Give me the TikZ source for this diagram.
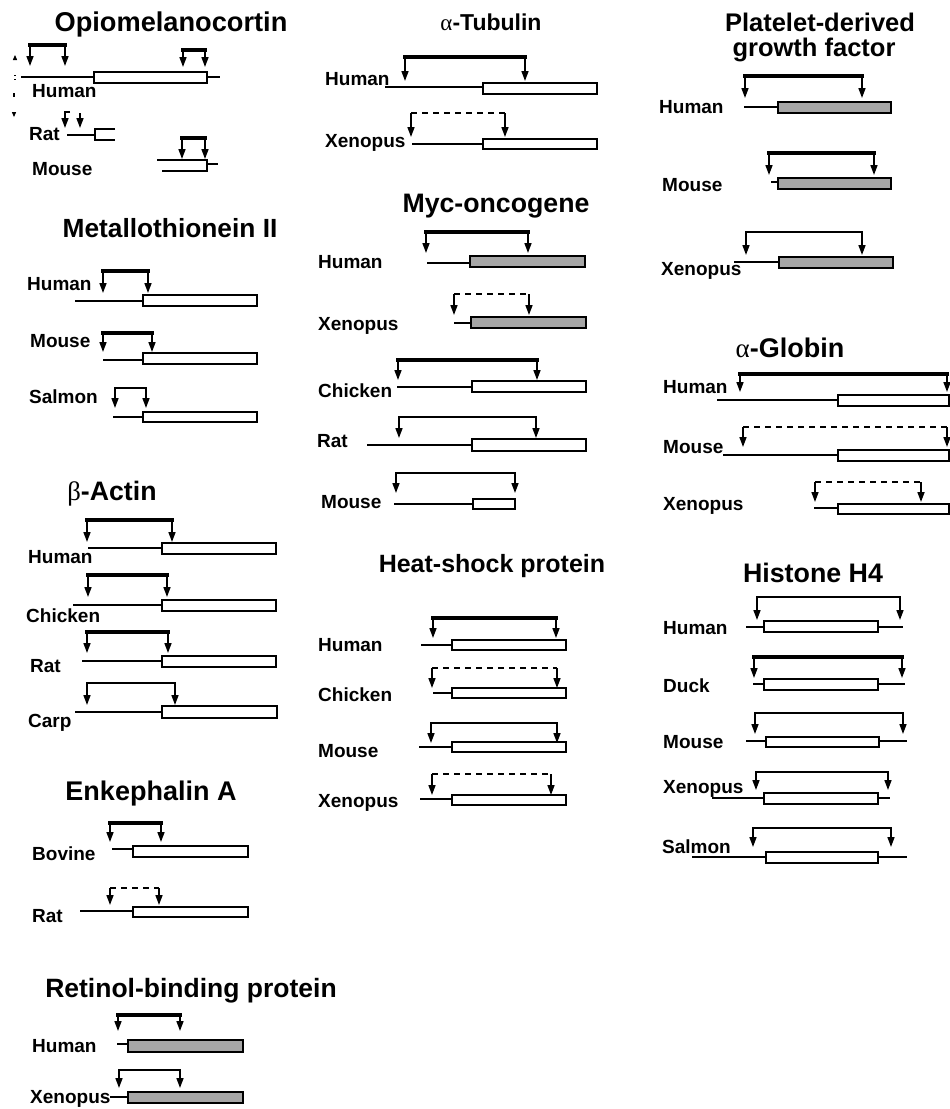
\documentclass[tikz,border=0pt]{standalone}
\usepackage{fontspec}
\setmainfont{Liberation Sans}
\newfontfamily\grk{Liberation Serif}
\usetikzlibrary{arrows.meta}

\tikzset{
  x=1pt, y=-1pt,
  lab/.style={font=\fontsize{19}{22}\selectfont\bfseries, anchor=base west, inner sep=0pt},
  ttl/.style={font=\fontsize{#1}{#1}\selectfont\bfseries, anchor=base, inner sep=0pt},
  flank/.style={line width=1.8pt},
  exon/.style={draw, line width=2.2pt, fill=white, line join=miter},
  exonshade/.style={draw, line width=2.2pt, fill=black!35, line join=miter},
  shaft/.style={line width=1.6pt, -{Triangle[length=10pt,width=7pt]}},
  topthick/.style={line width=3.4pt, line cap=rect},
  topthin/.style={line width=1.8pt, line cap=rect},
  topdash/.style={line width=2pt, dash pattern=on 6pt off 5pt},
}

% flanking sequence: x1, x2, y
\newcommand\flk[3]{\draw[flank] (#1,#3) -- (#2,#3);}
% exon box: [style] x1, x2, ytop, ybottom
\newcommand\exn[5][exon]{\draw[#1] (#2,#4) rectangle (#3,#5);}
% bracket with two down arrows: top style, xleft, xright, ytop, ytip
\newcommand\brk[5]{%
  \draw[shaft] (#2,#4) -- (#2,#5);
  \draw[shaft] (#3,#4) -- (#3,#5);
  \draw[#1] (#2,#4) -- (#3,#4);}

\begin{document}
\begin{tikzpicture}
\path[use as bounding box] (0,0) rectangle (950,1109);
\clip (0,0) rectangle (950,1109);
\fill[white] (0,0) rectangle (950,1109);

% ---------------- Opiomelanocortin ----------------
\node[ttl=27.2] (t-pomc) at (171,31) {Opiomelanocortin};
% small marks in the left margin
\fill (12.8,60) -- (17.2,60) -- (15,55) -- cycle;
\fill (14.2,74.5) rectangle (16,76);
\fill (14.2,78.5) rectangle (16,80);
\fill (12.5,93) rectangle (14.5,96.5);
\fill (11.8,112) -- (16.2,112) -- (14,117) -- cycle;

\node[lab] (pomc-hu) at (32,97) {Human};
\flk{21}{94}{77} \flk{207}{220}{77}
\exn{94}{207}{72}{83}
\brk{topthick}{30}{65}{45}{66}
\brk{topthick}{183}{205}{50}{67}

\node[lab] (pomc-rat) at (29,140) {Rat};
\flk{67}{95}{135}
\draw[exon, fill=none] (115,129) -- (95,129) -- (95,140) -- (115,140);
\draw[shaft] (70,112) -- (65,112) -- (65,128);
\draw[shaft] (80,113) -- (80,128);

\node[lab] (pomc-mo) at (32,175) {Mouse};
\draw[exon, fill=none] (157,160) -- (207,160) -- (207,171) -- (162,171);
\flk{207}{218}{164}
\brk{topthick}{182}{205}{138}{159}

% ---------------- Metallothionein II ----------------
\node[ttl=26.3] (t-mt) at (170,237) {Metallothionein II};
\node[lab] (mt-hu) at (27,290) {Human};
\flk{75}{143}{301} \exn{143}{257}{295}{306}
\brk{topthick}{103}{148}{271}{293}
\node[lab] (mt-mo) at (30,347) {Mouse};
\flk{103}{143}{360} \exn{143}{257}{353}{364}
\brk{topthick}{103}{152}{333}{352}
\node[lab] (mt-sa) at (29,403) {Salmon};
\flk{113}{143}{417} \exn{143}{257}{412}{422}
\brk{topthin}{115}{146}{388}{408}

% ---------------- beta-Actin ----------------
\node[ttl=26.7] (t-act) at (112,500) {{\grk\mdseries β}-Actin};
\node[lab] (act-hu) at (28,563) {Human};
\flk{88}{162}{548} \exn{162}{276}{543}{554}
\brk{topthick}{87}{172}{520}{542}
\node[lab] (act-ch) at (26,622) {Chicken};
\flk{73}{162}{605} \exn{162}{276}{600}{611}
\brk{topthick}{88}{167}{575}{597}
\node[lab] (act-rat) at (30,672) {Rat};
\flk{82}{162}{661} \exn{162}{276}{656}{667}
\brk{topthick}{87}{168}{632}{653}
\node[lab] (act-ca) at (28,727) {Carp};
\flk{75}{162}{712} \exn{162}{277}{706}{718}
\brk{topthin}{87}{175}{683}{705}

% ---------------- Enkephalin A ----------------
\node[ttl=27] (t-enk) at (151,800) {Enkephalin A};
\node[lab] (enk-bo) at (32,860) {Bovine};
\flk{112}{133}{849} \exn{133}{248}{846}{857}
\brk{topthick}{110}{161}{823}{842}
\node[lab] (enk-rat) at (32,922) {Rat};
\flk{80}{133}{911} \exn{133}{248}{907}{917}
\brk{topdash}{110}{159}{888}{905}

% ---------------- Retinol-binding protein ----------------
\node[ttl=26.5] (t-rbp) at (191,997) {Retinol-binding protein};
\node[lab] (rbp-hu) at (32,1052) {Human};
\flk{117}{128}{1044} \exn[exonshade]{128}{243}{1040}{1052}
\brk{topthick}{118}{180}{1015}{1031}
\node[lab] (rbp-xe) at (30,1103) {Xenopus};
\flk{110}{128}{1097} \exn[exonshade]{128}{243}{1092}{1103}
\brk{topthin}{119}{180}{1070}{1088}

% ---------------- alpha-Tubulin ----------------
\node[ttl=23] (t-tub) at (491,30) {{\grk\mdseries α}-Tubulin};
\node[lab] (tub-hu) at (325,85) {Human};
\flk{385}{483}{87} \exn{483}{597}{83}{94}
\brk{topthick}{405}{525}{57}{81}
\node[lab] (tub-xe) at (325,147) {Xenopus};
\flk{412}{483}{144} \exn{483}{597}{139}{149}
\brk{topdash}{411}{505}{113}{137}

% ---------------- Myc-oncogene ----------------
\node[ttl=26.7] (t-myc) at (496,212) {Myc-oncogene};
\node[lab] (myc-hu) at (318,268) {Human};
\flk{427}{470}{263} \exn[exonshade]{470}{585}{256}{267}
\brk{topthick}{426}{528}{232}{253}
\node[lab] (myc-xe) at (318,330) {Xenopus};
\flk{454}{471}{323} \exn[exonshade]{471}{586}{317}{328}
\brk{topdash}{454}{529}{294}{315}
\node[lab] (myc-ch) at (318,397) {Chicken};
\flk{397}{472}{387} \exn{472}{586}{381}{392}
\brk{topthick}{398}{537}{360}{380}
\node[lab] (myc-rat) at (317,447) {Rat};
\flk{367}{472}{445} \exn{472}{586}{439}{451}
\brk{topthin}{399}{536}{417}{438}
\node[lab] (myc-mo) at (321,508) {Mouse};
\flk{394}{473}{504} \exn{473}{515}{499}{509}
\brk{topthin}{396}{515}{473}{493}

% ---------------- Heat-shock protein ----------------
\node[ttl=25] (t-hsp) at (492,572) {Heat-shock protein};
\node[lab] (hsp-hu) at (318,651) {Human};
\flk{421}{452}{645} \exn{452}{566}{640}{650}
\brk{topthick}{433}{556}{618}{638}
\node[lab] (hsp-ch) at (318,701) {Chicken};
\flk{433}{452}{693} \exn{452}{566}{688}{698}
\brk{topdash}{432}{557}{668}{688}
\node[lab] (hsp-mo) at (318,757) {Mouse};
\flk{419}{452}{747} \exn{452}{566}{742}{752}
\brk{topthin}{431}{557}{723}{743}
\node[lab] (hsp-xe) at (318,807) {Xenopus};
\flk{420}{452}{799} \exn{452}{566}{795}{805}
\brk{topdash}{432}{551}{774}{795}

% ---------------- Platelet-derived growth factor ----------------
\node[ttl=25.5] (t-pdgf1) at (820,31) {Platelet-derived};
\node[ttl=25.5] (t-pdgf2) at (814,56) {growth factor};
\node[lab] (pdgf-hu) at (659,113) {Human};
\flk{744}{778}{107} \exn[exonshade]{778}{891}{102}{113}
\brk{topthick}{745}{862}{76}{98}
\node[lab] (pdgf-mo) at (662,191) {Mouse};
\flk{771}{778}{182} \exn[exonshade]{778}{891}{178}{189}
\brk{topthick}{769}{874}{153}{175}
\node[lab] (pdgf-xe) at (661,275) {Xenopus};
\flk{734}{779}{262} \exn[exonshade]{779}{893}{257}{268}
\brk{topthin}{746}{862}{232}{255}

% ---------------- alpha-Globin ----------------
\node[ttl=27] (t-glob) at (790,357) {{\grk\mdseries α}-Globin};
\node[lab] (glob-hu) at (663,393) {Human};
\flk{717}{838}{400} \exn{838}{949}{395}{406}
\brk{topthick}{740}{947}{374}{392}
\node[lab] (glob-mo) at (663,453) {Mouse};
\flk{723}{838}{455} \exn{838}{949}{450}{461}
\brk{topdash}{743}{947}{427}{447}
\node[lab] (glob-xe) at (663,510) {Xenopus};
\flk{814}{838}{508} \exn{838}{949}{504}{514}
\brk{topdash}{815}{921}{482}{502}

% ---------------- Histone H4 ----------------
\node[ttl=26.8] (t-h4) at (813,582) {Histone H4};
\node[lab] (h4-hu) at (663,634) {Human};
\flk{746}{764}{627} \flk{878}{903}{627} \exn{764}{878}{621}{632}
\brk{topthin}{757}{900}{597}{620}
\node[lab] (h4-du) at (663,692) {Duck};
\flk{753}{764}{684} \flk{878}{905}{684} \exn{764}{878}{679}{690}
\brk{topthick}{754}{902}{657}{678}
\node[lab] (h4-mo) at (663,748) {Mouse};
\flk{746}{766}{741} \flk{879}{907}{741} \exn{766}{879}{737}{747}
\brk{topthin}{755}{903}{713}{734}
\node[lab] (h4-xe) at (663,793) {Xenopus};
\flk{712}{764}{798} \flk{878}{890}{798} \exn{764}{878}{793}{804}
\brk{topthin}{756}{888}{772}{790}
\node[lab] (h4-sa) at (662,853) {Salmon};
\flk{692}{766}{857} \flk{878}{907}{857} \exn{766}{878}{852}{863}
\brk{topthin}{753}{891}{828}{847}
\end{tikzpicture}
\end{document}
